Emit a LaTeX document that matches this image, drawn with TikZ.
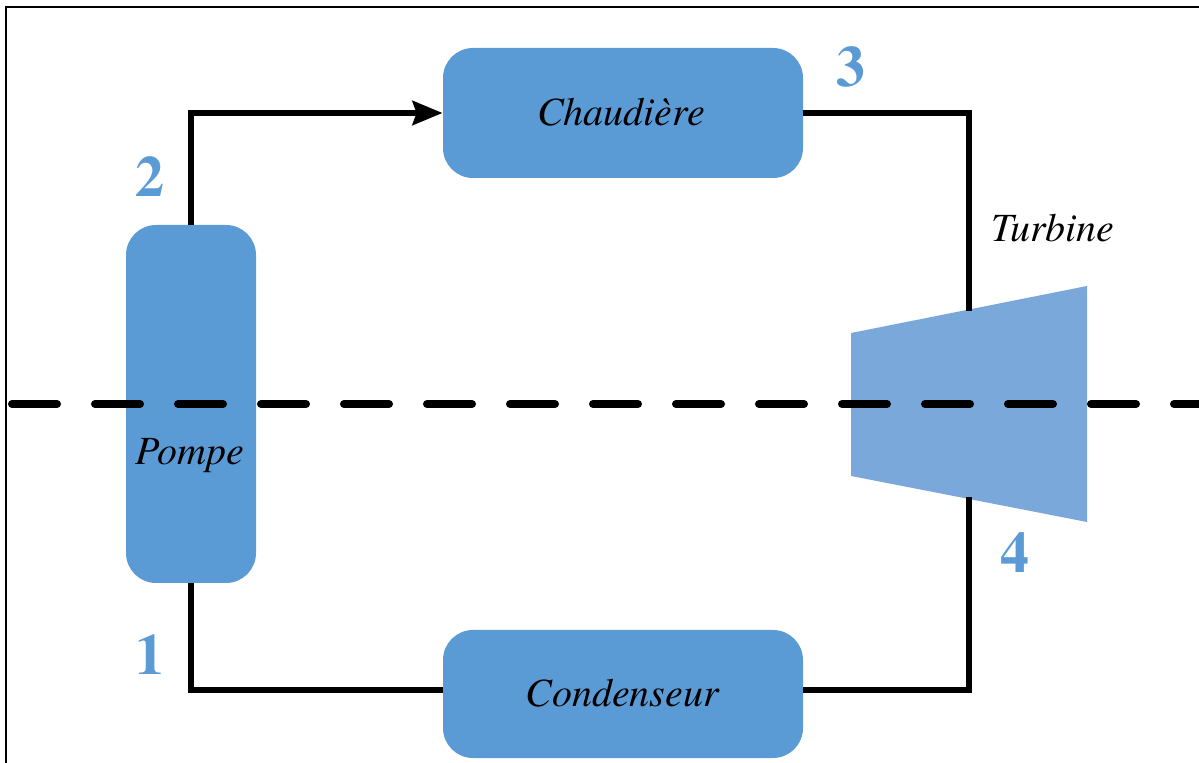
\documentclass[tikz,border=0pt]{standalone}
\usepackage{fontspec}
\setmainfont{TeX Gyre Termes}
\usetikzlibrary{arrows.meta}
\definecolor{boxblue}{HTML}{5B9BD5}
\definecolor{turbblue}{HTML}{7AA8DA}
\definecolor{numblue}{HTML}{5B9BD5}
\begin{document}
\begin{tikzpicture}[x=0.5pt,y=-0.5pt,
  unit/.style={fill=boxblue,draw=none,rounded corners=15pt,inner sep=0pt},
  pipe/.style={line width=3pt,line join=miter},
  num/.style={text=numblue,font=\fontsize{29}{32}\selectfont\bfseries,inner sep=0pt},
  lbl/.style={font=\fontsize{20}{24}\selectfont\itshape,inner sep=0pt}]
\useasboundingbox (0,0) rectangle (1199,763);
\begin{scope}
\clip (0,0) rectangle (1199,763);
\draw[line width=1.2pt] (6,7) rectangle (1230,800);
\end{scope}
% units
\node[unit,minimum width=180pt,minimum height=65pt] (chaud) at (623,113) {};
\node[lbl] at (621,112) {Chaudière};
\node[unit,minimum width=180pt,minimum height=64pt] (cond) at (623,694) {};
\node[lbl] at (622,693) {Condenseur};
\node[unit,minimum width=65pt,minimum height=179pt] (pompe) at (191,404) {};
\node[lbl] at (190,456) {Pompe};
% turbine
\fill[turbblue] (851,333) -- (1087,286) -- (1087,522) -- (851,476) -- cycle;
\coordinate (tin) at (969,311);
\coordinate (tout) at (969,497);
% pipes
\draw[pipe,-{Stealth[length=15pt,width=12pt,inset=2pt]}] (pompe.north) |- (chaud.west);
\draw[pipe] (chaud.east) -| (tin);
\draw[pipe] (tout) |- (cond.east |- 0,690);
\draw[pipe] (cond.west |- 0,690) -| (pompe.south);
% axis
\draw[line width=4pt,line cap=round,dash pattern=on 22.5pt off 19pt] (12,404) -- (1199,404);
% labels
\node[num] (n1) at (150,655) {1};
\node[num] (n2) at (150,177) {2};
\node[num] (n3) at (851,67) {3};
\node[num] (n4) at (1015,553) {4};
\node[lbl] (turb) at (1053,228) {Turbine};
\end{tikzpicture}
\end{document}
